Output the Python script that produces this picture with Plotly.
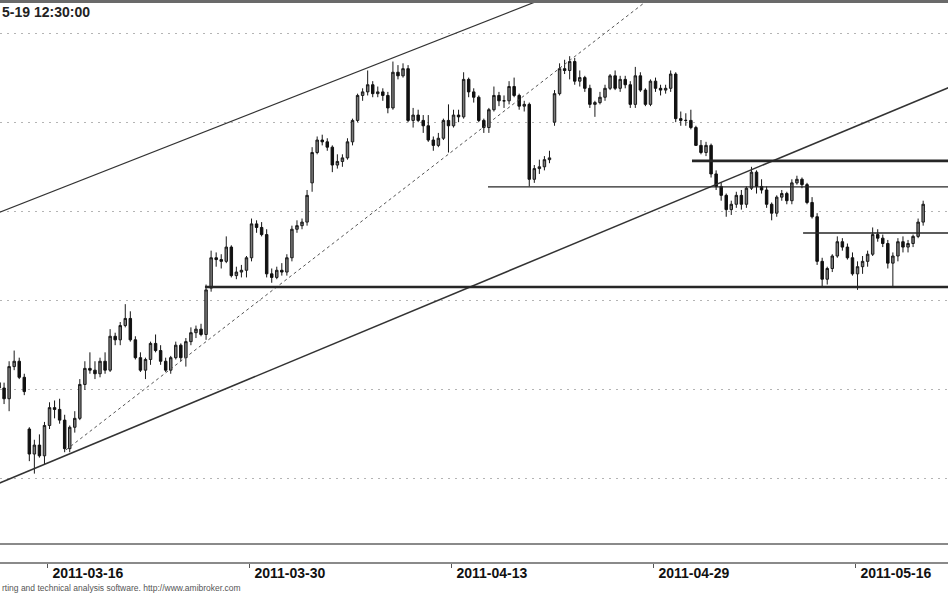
import plotly.graph_objects as go

# ---------------- data ----------------
trading_days = [
    "2011-03-11",
    "2011-03-14", "2011-03-15", "2011-03-16", "2011-03-17", "2011-03-18",
    "2011-03-21", "2011-03-22", "2011-03-23", "2011-03-24", "2011-03-25",
    "2011-03-28", "2011-03-29", "2011-03-30", "2011-03-31", "2011-04-01",
    "2011-04-04", "2011-04-05", "2011-04-06", "2011-04-07", "2011-04-08",
    "2011-04-11", "2011-04-12", "2011-04-13", "2011-04-14", "2011-04-15",
    "2011-04-18", "2011-04-19", "2011-04-20", "2011-04-21",
    "2011-04-26", "2011-04-27", "2011-04-28", "2011-04-29",
    "2011-05-02", "2011-05-04", "2011-05-05", "2011-05-06",
    "2011-05-09", "2011-05-10", "2011-05-11", "2011-05-12", "2011-05-13",
    "2011-05-16", "2011-05-17", "2011-05-18", "2011-05-19",
]
bars_per_day = 4
first_day_slots = [2, 3]
last_day_slots = [0, 1]
reference_day = "2011-03-16"

tick_dates = ["2011-03-16", "2011-03-30", "2011-04-13", "2011-04-29", "2011-05-16"]

opens = [
    2704, 2701,
    2695, 2713, 2716, 2707,  2678, 2664, 2669, 2663,  2680, 2690, 2689, 2683,
    2667, 2679, 2684, 2703,  2712, 2711, 2709, 2716,  2711, 2730, 2728, 2736,
    2740, 2728, 2718, 2711,  2717, 2726, 2722, 2716,  2711, 2718, 2725, 2718,
    2727, 2732, 2734, 2731,  2757, 2774, 2773, 2772,  2780, 2764, 2766, 2767,
    2774, 2793, 2791, 2787,  2765, 2763, 2767, 2766,  2774, 2790, 2792, 2794,
    2816, 2833, 2840, 2839,  2836, 2826, 2828, 2830,  2839, 2851, 2865, 2867,
    2871, 2866, 2867, 2865,  2858, 2878, 2876, 2880,  2851, 2854, 2851, 2848,
    2840, 2837, 2841, 2851,  2848, 2854, 2853, 2874,  2867, 2864, 2851, 2847,
    2857, 2865, 2862, 2862,  2870, 2865, 2859, 2860,  2818, 2824, 2825, 2829,
    2850, 2866, 2880, 2879,  2884, 2873, 2875, 2869,  2860, 2861, 2864, 2869,
    2876, 2869, 2874, 2871,  2860, 2876, 2868, 2860,  2873, 2869, 2868, 2869,
    2877, 2852, 2851, 2851,  2847, 2837, 2833, 2837,  2821, 2814, 2809, 2801,
    2804, 2809, 2804, 2813,  2822, 2814, 2812, 2804,  2799, 2808, 2810, 2806,
    2816, 2818, 2815, 2805,  2797, 2772, 2762, 2768,  2775, 2783, 2780, 2774,
    2765, 2769, 2772, 2776,  2787, 2785, 2782, 2771,  2775, 2783, 2780, 2782,
    2786, 2794,
]
highs = [
    2707, 2704,
    2716, 2722, 2718, 2709,  2679, 2672, 2675, 2682,  2693, 2694, 2695, 2686,
    2680, 2688, 2706, 2716,  2721, 2716, 2718, 2721,  2734, 2732, 2738, 2748,
    2744, 2730, 2721, 2718,  2727, 2731, 2725, 2718,  2719, 2727, 2726, 2729,
    2735, 2736, 2737, 2759,  2778, 2777, 2776, 2786,  2781, 2769, 2770, 2775,
    2796, 2795, 2794, 2790,  2768, 2769, 2771, 2776,  2792, 2795, 2796, 2812,
    2836, 2842, 2843, 2841,  2837, 2832, 2832, 2841,  2852, 2866, 2869, 2879,
    2873, 2870, 2869, 2867,  2884, 2882, 2883, 2882,  2858, 2857, 2854, 2854,
    2842, 2844, 2852, 2860,  2857, 2857, 2878, 2875,  2869, 2865, 2852, 2858,
    2870, 2867, 2865, 2873,  2875, 2866, 2862, 2861,  2826, 2829, 2831, 2834,
    2868, 2883, 2885, 2887,  2886, 2879, 2876, 2871,  2862, 2867, 2871, 2877,
    2879, 2876, 2876, 2873,  2881, 2878, 2869, 2874,  2875, 2871, 2871, 2879,
    2878, 2856, 2855, 2857,  2848, 2840, 2839, 2838,  2823, 2816, 2810, 2806,
    2811, 2812, 2814, 2825,  2823, 2818, 2814, 2805,  2809, 2812, 2811, 2818,
    2820, 2819, 2816, 2808,  2799, 2774, 2769, 2776,  2786, 2785, 2782, 2777,
    2772, 2775, 2778, 2791,  2790, 2787, 2784, 2777,  2785, 2786, 2784, 2787,
    2796, 2806,
]
lows = [
    2697, 2692,
    2688, 2711, 2706, 2697,  2660, 2653, 2662, 2658,  2678, 2684, 2681, 2665,
    2665, 2676, 2683, 2700,  2709, 2706, 2707, 2709,  2710, 2725, 2725, 2735,
    2727, 2717, 2710, 2706,  2714, 2721, 2714, 2710,  2709, 2717, 2716, 2713,
    2725, 2729, 2730, 2728,  2755, 2769, 2768, 2771,  2763, 2762, 2763, 2763,
    2772, 2788, 2786, 2763,  2760, 2762, 2764, 2764,  2772, 2788, 2790, 2792,
    2811, 2832, 2837, 2834,  2822, 2824, 2825, 2829,  2837, 2850, 2862, 2865,
    2864, 2864, 2862, 2855,  2857, 2874, 2875, 2850,  2847, 2850, 2844, 2839,
    2834, 2836, 2840, 2833,  2847, 2850, 2852, 2864,  2861, 2850, 2844, 2844,
    2856, 2859, 2858, 2860,  2864, 2857, 2856, 2814,  2816, 2821, 2823, 2827,
    2848, 2865, 2877, 2874,  2871, 2870, 2867, 2858,  2853, 2860, 2862, 2868,
    2868, 2867, 2869, 2858,  2858, 2867, 2859, 2859,  2867, 2865, 2866, 2867,
    2850, 2848, 2848, 2846,  2837, 2832, 2831, 2819,  2812, 2806, 2797, 2798,
    2802, 2801, 2802, 2812,  2810, 2810, 2802, 2795,  2797, 2806, 2804, 2804,
    2815, 2813, 2804, 2796,  2770, 2758, 2759, 2766,  2774, 2778, 2773, 2764,
    2756, 2765, 2769, 2775,  2783, 2780, 2768, 2758,  2772, 2777, 2777, 2780,
    2785, 2792,
]
closes = [
    2701, 2695,
    2713, 2716, 2707, 2699,  2664, 2669, 2663, 2680,  2690, 2689, 2683, 2667,
    2679, 2684, 2703, 2712,  2711, 2709, 2716, 2711,  2730, 2728, 2736, 2740,
    2728, 2718, 2711, 2717,  2726, 2722, 2716, 2711,  2718, 2725, 2718, 2727,
    2732, 2734, 2731, 2756,  2774, 2773, 2772, 2780,  2764, 2766, 2767, 2774,
    2793, 2791, 2787, 2765,  2763, 2767, 2766, 2774,  2790, 2792, 2794, 2809,
    2833, 2840, 2839, 2836,  2826, 2828, 2830, 2839,  2851, 2865, 2867, 2871,
    2866, 2867, 2865, 2858,  2878, 2876, 2880, 2851,  2854, 2851, 2848, 2840,
    2837, 2841, 2851, 2848,  2854, 2853, 2874, 2867,  2864, 2851, 2847, 2857,
    2865, 2862, 2862, 2870,  2865, 2859, 2860, 2818,  2824, 2825, 2829, 2830,
    2866, 2880, 2879, 2884,  2873, 2875, 2869, 2860,  2861, 2864, 2869, 2876,
    2869, 2874, 2871, 2860,  2876, 2868, 2860, 2873,  2869, 2868, 2869, 2877,
    2852, 2851, 2851, 2847,  2837, 2833, 2837, 2821,  2814, 2809, 2801, 2804,
    2809, 2804, 2813, 2822,  2814, 2812, 2804, 2799,  2808, 2810, 2806, 2816,
    2818, 2815, 2805, 2797,  2772, 2762, 2768, 2775,  2783, 2780, 2774, 2765,
    2769, 2772, 2776, 2787,  2785, 2782, 2771, 2775,  2783, 2780, 2782, 2786,
    2794, 2804,
]

# trend lines: anchor points in (trading-day index from 2011-03-16, price)
upper_channel_x = [-2.4, 25.0]
upper_channel_y = [2799.3, 2921.1]
lower_channel_x = [-2.4, 44.7]
lower_channel_y = [2647.5, 2869.7]
dashed_trend_x = [0.94, 30.5]
dashed_trend_y = [2666.3, 2925.1]

# horizontal support / resistance levels
level_prices = [2757.6, 2813.7, 2828.3, 2787.9]
level_start_x = [7.82, 21.83, 31.93, 37.43]
level_end_x = 45.0

header_text = "5-19 12:30:00"
footer_text = "rting and technical analysis software. http://www.amibroker.com"

# ---------------- build positions ----------------
day0 = trading_days.index(reference_day)
bar_x = []
for i, d in enumerate(trading_days):
    if i == 0:
        slots = first_day_slots
    elif i == len(trading_days) - 1:
        slots = last_day_slots
    else:
        slots = range(bars_per_day)
    for s in slots:
        bar_x.append(i - day0 + (s + 0.5) / bars_per_day)

tick_vals = [trading_days.index(t) - day0 for t in tick_dates]

level_widths = [2.6, 1.3, 2.6, 1.3]

fig = go.Figure()
fig.add_trace(go.Candlestick(
    x=bar_x, open=opens, high=highs, low=lows, close=closes,
    increasing=dict(line=dict(color="#1a1a1a", width=1), fillcolor="#7a7a7a"),
    decreasing=dict(line=dict(color="#111111", width=1), fillcolor="#111111"),
    whiskerwidth=0, showlegend=False, hoverinfo="skip",
))

fig.add_trace(go.Scatter(x=upper_channel_x, y=upper_channel_y, mode="lines",
                         line=dict(color="#333333", width=1.2), showlegend=False, hoverinfo="skip"))
fig.add_trace(go.Scatter(x=lower_channel_x, y=lower_channel_y, mode="lines",
                         line=dict(color="#333333", width=1.5), showlegend=False, hoverinfo="skip"))
fig.add_trace(go.Scatter(x=dashed_trend_x, y=dashed_trend_y, mode="lines",
                         line=dict(color="#555555", width=1, dash="3px,3px"),
                         showlegend=False, hoverinfo="skip"))
for p, x0, w in zip(level_prices, level_start_x, level_widths):
    fig.add_trace(go.Scatter(x=[x0, level_end_x], y=[p, p], mode="lines",
                             line=dict(color="#262626", width=w),
                             showlegend=False, hoverinfo="skip"))

W, H = 948, 593
top_m, bot_m = 3, 31
plot_h = H - top_m - bot_m

fig.update_layout(
    width=W, height=H,
    margin=dict(l=0, r=0, t=top_m, b=bot_m, pad=0),
    paper_bgcolor="white", plot_bgcolor="white",
    showlegend=False,
    xaxis=dict(
        range=[-2.3267, 44.604], rangeslider=dict(visible=False),
        showgrid=False, zeroline=False,
        tickmode="array", tickvals=tick_vals, ticktext=tick_dates,
        ticks="outside", ticklen=4, tickwidth=1, tickcolor="#555555",
        ticklabelposition="outside right", ticklabelshift=4, ticklabelstandoff=-3,
        tickfont=dict(family="Liberation Sans, Arial, sans-serif", size=14,
                      color="#111111", weight="bold"),
        showline=True, linecolor="#8a8a8a", linewidth=2,
    ),
    yaxis=dict(
        range=[2603.47, 2916.82], tick0=2650, dtick=50,
        showgrid=True, gridcolor="#b4b4b4", gridwidth=1, griddash="2px,5px",
        showticklabels=False, ticks="", zeroline=False, showline=False,
    ),
    shapes=[
        dict(type="rect", xref="paper", yref="paper", x0=0, x1=1,
             y0=1, y1=1 + 3.0 / plot_h, fillcolor="#6a6a6a", line=dict(width=0), layer="above"),
        dict(type="line", xref="paper", yref="paper", x0=0, x1=1,
             y0=18.0 / plot_h, y1=18.0 / plot_h, line=dict(color="#8a8a8a", width=2)),
    ],
    annotations=[
        dict(text=header_text, xref="paper", yref="paper", x=0, y=1 - 9.5 / plot_h,
             xanchor="left", yanchor="middle", showarrow=False,
             font=dict(family="Liberation Sans, Arial, sans-serif", size=14,
                       color="#222222", weight="bold")),
        dict(text="<span style='color:#555555'>" + footer_text + "</span>",
             xref="paper", yref="paper", x=0, y=-25.5 / plot_h,
             xanchor="left", yanchor="middle", showarrow=False,
             font=dict(family="Liberation Sans, Arial, sans-serif", size=8.5, color="#555555")),
    ],
)

fig.write_html("out.html",
               config={"displayModeBar": False},
               post_script="document.body.style.margin='0';document.body.style.padding='0';")
